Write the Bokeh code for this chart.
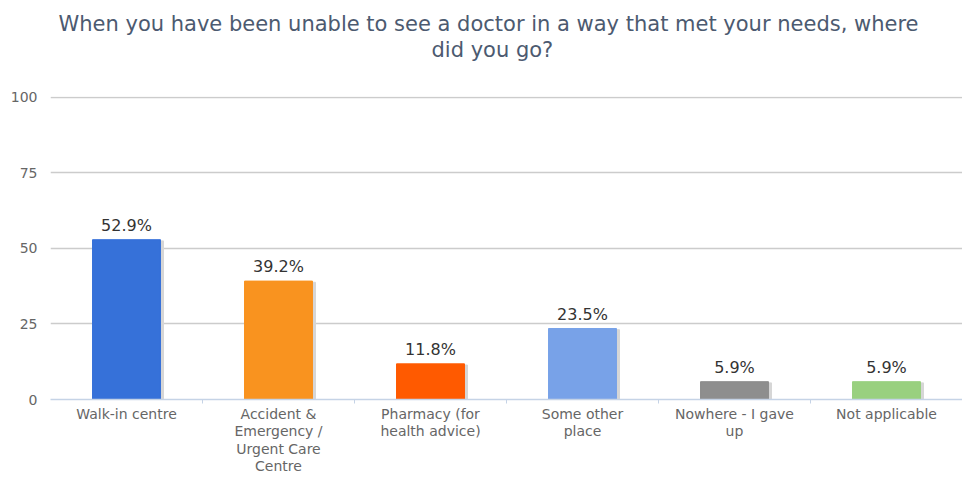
from bokeh.plotting import figure
from bokeh.models import Range1d, FixedTicker, ColumnDataSource, LabelSet, Title
from bokeh.core.properties import value
from bokeh.embed import file_html
from bokeh.resources import INLINE

title_lines = ["When you have been unable to see a doctor in a way that met your needs, where",
               "did you go?"]
categories = ["Walk-in centre", "Accident &\nEmergency /\nUrgent Care\nCentre",
              "Pharmacy (for\nhealth advice)", "Some other\nplace",
              "Nowhere - I gave\nup", "Not applicable"]
values = [52.9, 39.2, 11.8, 23.5, 5.9, 5.9]
colors = ["#3671d9", "#f9931f", "#ff5a00", "#78a2e8", "#8e8e8e", "#99d07f"]
y_ticks = [0, 25, 50, 75, 100]

FONT = "DejaVu Sans"
W, H = 962, 477
xs = [i + 0.5 for i in range(len(values))]
src = ColumnDataSource(dict(x=xs, top=values, color=colors,
                            sx=[x + 0.02 for x in xs],
                            stop=[v - 0.4 for v in values],
                            label=[f"{v:.1f}%" for v in values]))

p = figure(width=W, height=H, output_backend="svg", toolbar_location=None,
           x_range=Range1d(0, len(values)), y_range=Range1d(0, 100.3),
           min_border_left=50, min_border_right=0, min_border_top=96, min_border_bottom=77,
           outline_line_color=None)

title_style = dict(align="left", text_font=FONT, text_font_size="21px",
                   text_font_style="normal", text_color="#4c5a70")
p.title.text = title_lines[0]
for k, v in title_style.items():
    setattr(p.title, k, v)
p.title.offset = 8
p.title.standoff = 0

# spacer between title and frame (closest to frame), then second title line
p.add_layout(Title(text=" ", text_font_size="10px", standoff=22, align="center"), "above")
p.add_layout(Title(text=title_lines[1], standoff=0, offset=381, **title_style), "above")

p.vbar(x="sx", top="stop", width=0.447, color="#d6d6d6", source=src)
p.vbar(x="x", top="top", width=0.447, fill_color="color", line_color="color", source=src)

p.add_layout(LabelSet(x="x", y="top", text="label", source=src, text_align="center",
                      text_baseline="bottom", y_offset=5, text_font=value(FONT),
                      text_font_size="16px", text_color="#333333"))

# y axis
p.yaxis.ticker = FixedTicker(ticks=y_ticks)
p.yaxis.axis_line_color = None
p.yaxis.major_tick_line_color = None
p.yaxis.minor_tick_line_color = None
p.yaxis.major_label_text_font = FONT
p.yaxis.major_label_text_font_size = "14px"
p.yaxis.major_label_text_color = "#666666"
p.yaxis.major_label_standoff = 7

# x axis
p.xaxis.ticker = FixedTicker(ticks=xs, minor_ticks=list(range(1, len(values))))
p.xaxis.major_label_overrides = {x: c for x, c in zip(xs, categories)}
p.xaxis.axis_line_color = "#c5d3e6"
p.xaxis.axis_line_width = 1.5
p.xaxis.major_tick_line_color = None
p.xaxis.minor_tick_line_color = "#c5d3e6"
p.xaxis.minor_tick_in = 0
p.xaxis.minor_tick_out = 4
p.xaxis.major_label_text_font = FONT
p.xaxis.major_label_text_font_size = "14px"
p.xaxis.major_label_text_color = "#666666"
p.xaxis.major_label_standoff = 0
p.xaxis.major_label_text_line_height = 1.1

p.xgrid.grid_line_color = None
p.ygrid.grid_line_color = "#cccccc"
p.ygrid.grid_line_width = 1.5

open("out.html", "w").write(file_html(p, INLINE))
